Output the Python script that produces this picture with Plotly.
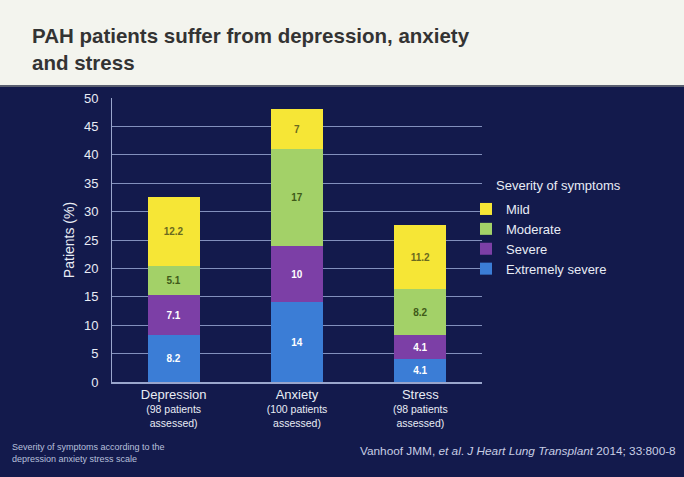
import plotly.graph_objects as go

categories = ["Depression", "Anxiety", "Stress"]
cat_sub = ["(98 patients<br>assessed)", "(100 patients<br>assessed)", "(98 patients<br>assessed)"]
extremely_severe = [8.2, 14, 4.1]
severe = [7.1, 10, 4.1]
moderate = [5.1, 17, 8.2]
mild = [12.2, 7, 11.2]
y_ticks = [0, 5, 10, 15, 20, 25, 30, 35, 40, 45, 50]

W, H = 684, 477
NAVY = "#131a4c"

series = [
    ("Extremely severe", extremely_severe, "#3b7dd6", "white"),
    ("Severe", severe, "#7c3fa6", "white"),
    ("Moderate", moderate, "#a3d168", "#3f5a18"),
    ("Mild", mild, "#f6e636", "#6a6a20"),
]

fig = go.Figure()
for name, vals, col, tcol in series:
    fig.add_trace(go.Bar(
        x=categories, y=vals, name=name,
        marker=dict(color=col, line=dict(width=0)),
        text=[f"<b>{v:g}</b>" for v in vals], textposition="inside",
        insidetextanchor="middle",
        textfont=dict(color=tcol, size=10, family="Liberation Sans"),
        hoverinfo="skip",
    ))

ticktext = [f"<span style='font-size:13px'>{c}</span><br>{s}" for c, s in zip(categories, cat_sub)]

fig.update_layout(
    width=W, height=H,
    margin=dict(l=0, r=0, t=0, b=0, autoexpand=False),
    paper_bgcolor=NAVY, plot_bgcolor=NAVY,
    barmode="stack", bargap=0.58,
    font=dict(family="Liberation Sans", color="white"),
    showlegend=True,
    legend=dict(
        x=466 / W, y=1 - 194 / H, xanchor="left", yanchor="top",
        bgcolor="rgba(0,0,0,0)", traceorder="reversed",
        font=dict(size=13, color="#e8ecf5"),
        itemwidth=30, tracegroupgap=0,
    ),
    xaxis=dict(
        domain=[112 / W, 482 / W], automargin=False,
        tickmode="array", tickvals=categories, ticktext=ticktext,
        tickfont=dict(size=10.5, color="#e8ecf5"),
        showline=True, linecolor="#9aa6cc", linewidth=1.5,
        ticks="", showgrid=False, ticklabelstandoff=3,
    ),
    yaxis=dict(
        domain=[1 - 382 / H, 1 - 98 / H], automargin=False,
        range=[0, 50], tickvals=y_ticks,
        tickfont=dict(size=13, color="#e8ecf5"),
        showgrid=True, gridcolor="#8290bd", gridwidth=1,
        showline=True, linecolor="#9aa6cc", linewidth=1,
        zeroline=False, ticks="", ticklen=0, ticklabelstandoff=10,
        title=dict(text="Patients (%)", font=dict(size=14, color="#e8ecf5"), standoff=6),
    ),
    shapes=[
        dict(type="rect", xref="paper", yref="paper", x0=0, x1=1,
             y0=1 - 86 / H, y1=1, fillcolor="#f3f4ee", line=dict(width=0), layer="below"),
        dict(type="line", xref="paper", yref="paper", x0=0, x1=1,
             y0=1 - 86 / H, y1=1 - 86 / H, line=dict(color="#5a5f70", width=2)),
    ],
    annotations=[
        dict(text="<b>PAH patients suffer from depression, anxiety<br>and stress</b>",
             xref="paper", yref="paper", x=30 / W, y=1 - 22 / H,
             xanchor="left", yanchor="top", align="left", showarrow=False,
             font=dict(size=20.5, color="#333333", family="Liberation Sans")),
        dict(text="Severity of symptoms",
             xref="paper", yref="paper", x=494 / W, y=1 - 185 / H,
             xanchor="left", yanchor="middle", align="left", showarrow=False,
             font=dict(size=13, color="#e8ecf5")),
        dict(text="Severity of symptoms according to the<br>depression anxiety stress scale",
             xref="paper", yref="paper", x=10 / W, y=1 - 440 / H,
             xanchor="left", yanchor="top", align="left", showarrow=False,
             font=dict(size=9, color="#b8c0dc")),
        dict(text="Vanhoof JMM, <i>et al</i>. <i>J Heart Lung Transplant</i> 2014; 33:800-8",
             xref="paper", yref="paper", x=678 / W, y=1 - 451 / H,
             xanchor="right", yanchor="middle", align="right", showarrow=False,
             font=dict(size=11.8, color="#c8cee4")),
    ],
)

fig.write_html(
    "out.html",
    config={"displayModeBar": False},
    post_script="document.body.style.margin='0';document.body.style.overflow='hidden';",
)
